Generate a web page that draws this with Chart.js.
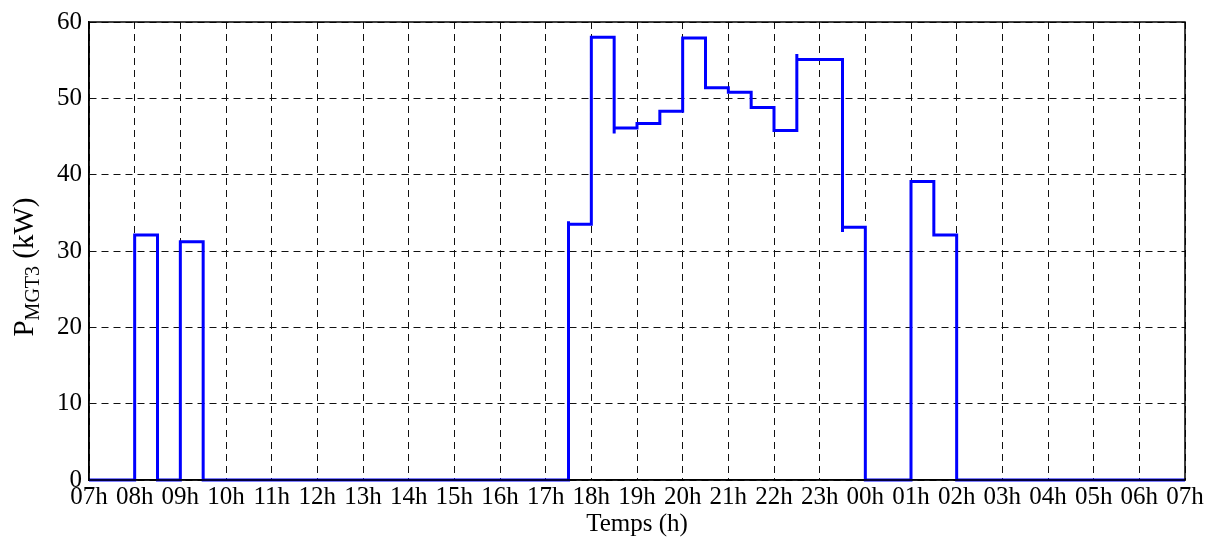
<!DOCTYPE html>
<html>
<head>
<meta charset="utf-8">
<title>P MGT3</title>
<script src="https://cdn.jsdelivr.net/npm/chart.js@4/dist/chart.umd.min.js"></script>
<style>
  html, body { margin: 0; padding: 0; background: #fff; }
  #wrap { width: 1207px; height: 543px; }
</style>
</head>
<body>
<div id="wrap"><canvas id="chart" width="1207" height="543"></canvas></div>
<script>
// ─── Data ─────────────────────────────────────────────────────────────────────
// hours counted from 07h (0 = 07h, 24 = 07h next day)
const hourLabels = ['07h', '08h', '09h', '10h', '11h', '12h', '13h', '14h', '15h', '16h', '17h', '18h',
                    '19h', '20h', '21h', '22h', '23h', '00h', '01h', '02h', '03h', '04h', '05h', '06h', '07h'];
const stepStart = [0, 1, 1.5, 2, 2.5, 10.5, 11, 11.5, 12, 12.5, 13, 13.5, 14, 14.5, 15, 15.5, 16.5, 17, 18, 18.5, 19];
const stepPower = [0, 32.1, 0, 31.2, 0, 33.5, 58.0, 46.1, 46.7, 48.3, 57.9, 51.4, 50.8, 48.8, 45.8, 55.1, 33.1, 0, 39.1, 32.1, 0];
const endHour = 24;
// small overshoots seen at some transitions
const spikeAt = [10.5, 11.5, 15.5, 16.5];
const spikePower = [33.9, 45.4, 55.8, 32.5];
const yTicks = [0, 10, 20, 30, 40, 50, 60];

// build the stepped profile from the segments
const points = [];
stepStart.forEach((t, i) => {
  const next = i + 1 < stepStart.length ? stepStart[i + 1] : endHour;
  const k = spikeAt.indexOf(t);
  if (k >= 0) points.push({ x: t, y: spikePower[k] });
  points.push({ x: t, y: stepPower[i] });
  points.push({ x: next, y: stepPower[i] });
});

const FONT = "'Liberation Serif', 'Times New Roman', serif";

// ─── Plugins ──────────────────────────────────────────────────────────────────
const frame = {
  id: 'frame',
  afterDatasetsDraw(chart) {
    const { ctx, chartArea: a } = chart;
    ctx.save();
    ctx.strokeStyle = '#000';
    ctx.lineWidth = 1.5;
    ctx.strokeRect(a.left, a.top, a.right - a.left, a.bottom - a.top);
    ctx.restore();
  }
};

const yTitle = {
  id: 'yTitle',
  afterDraw(chart) {
    const { ctx } = chart;
    const big = '29px ' + FONT, small = '20px ' + FONT;
    ctx.save();
    ctx.fillStyle = '#000';
    ctx.textBaseline = 'alphabetic';
    ctx.font = big;  const wP = ctx.measureText('P').width;
    ctx.font = small; const wS = ctx.measureText('MGT3').width;
    ctx.font = big;  const wU = ctx.measureText(' (kW)').width;
    const total = wP + wS + wU;
    ctx.translate(33, 267);
    ctx.rotate(-Math.PI / 2);
    let x = -total / 2;
    ctx.font = big;   ctx.fillText('P', x, 0); x += wP;
    ctx.font = small; ctx.fillText('MGT3', x, 6); x += wS;
    ctx.font = big;   ctx.fillText(' (kW)', x, 0);
    ctx.restore();
  }
};

// ─── Chart ────────────────────────────────────────────────────────────────────
const ctx = document.getElementById('chart').getContext('2d');
new Chart(ctx, {
  type: 'line',
  data: {
    datasets: [{
      data: points,
      borderColor: '#0000ff',
      borderWidth: 3,
      pointRadius: 0,
      tension: 0,
      fill: false,
      clip: 4
    }]
  },
  options: {
    responsive: false,
    animation: false,
    layout: { padding: { top: 18, right: 22, left: 0, bottom: 0 } },
    plugins: { legend: { display: false }, tooltip: { enabled: false } },
    scales: {
      x: {
        type: 'linear',
        min: 0,
        max: endHour,
        afterFit(s) { s.height = 63; },
        afterBuildTicks(s) { s.ticks = hourLabels.map((_, i) => ({ value: i })); },
        ticks: {
          autoSkip: false,
          maxRotation: 0,
          padding: 2,
          color: '#000',
          font: { family: FONT, size: 25 },
          callback: v => hourLabels[v]
        },
        grid: { color: '#111', lineWidth: 1, drawTicks: false },
        border: { display: true, color: '#000', width: 1.5, dash: [7, 5] },
        title: {
          display: true,
          text: 'Temps (h)',
          color: '#000',
          font: { family: FONT, size: 25 },
          padding: { top: 0, bottom: 4 }
        }
      },
      y: {
        min: 0,
        max: 60,
        afterFit(s) { s.width = 89; },
        afterBuildTicks(s) { s.ticks = yTicks.map(v => ({ value: v })); },
        ticks: {
          padding: 7,
          color: '#000',
          font: { family: FONT, size: 25 }
        },
        grid: { color: '#111', lineWidth: 1, drawTicks: false },
        border: { display: true, color: '#000', width: 1.5, dash: [7, 5] }
      }
    }
  },
  plugins: [frame, yTitle]
});
</script>
</body>
</html>
